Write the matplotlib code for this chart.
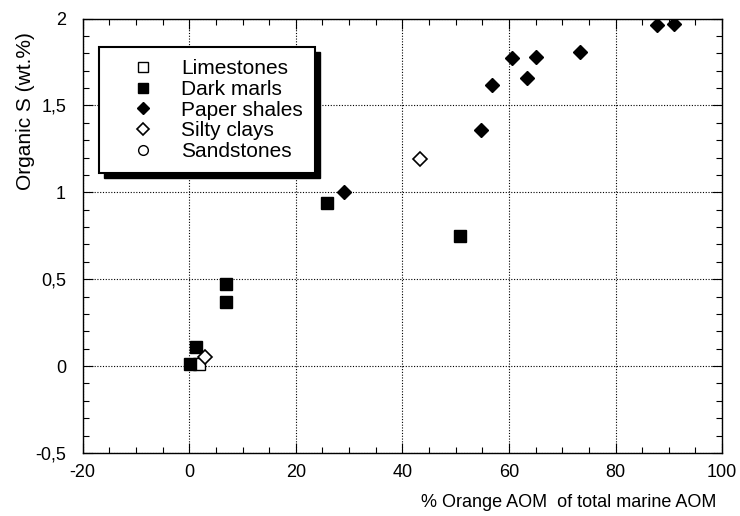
import matplotlib
matplotlib.use("Agg")
import matplotlib.pyplot as plt
from matplotlib.patches import Rectangle
from matplotlib.ticker import MultipleLocator, FuncFormatter

plt.rcParams["font.family"] = ["Liberation Sans", "DejaVu Sans"]
plt.rcParams["axes.unicode_minus"] = False

# data
limestone_x = [1.8]
limestone_y = [0.01]
marl_x = [0.1, 1.2, 6.9, 6.9, 25.8, 50.9]
marl_y = [0.01, 0.11, 0.47, 0.37, 0.94, 0.75]
shale_x = [29.0, 54.8, 56.9, 60.6, 63.4, 65.1, 73.3, 87.7, 91.0]
shale_y = [1.00, 1.36, 1.62, 1.77, 1.66, 1.78, 1.81, 1.96, 1.97]
silty_x = [2.9, 43.3]
silty_y = [0.05, 1.19]
sand_x = []
sand_y = []

fig = plt.figure(figsize=(7.4, 5.16), dpi=100)
ax = fig.add_axes([0.1118, 0.1221, 0.864, 0.842])

ax.plot(limestone_x, limestone_y, "s", ms=8.5, mfc="white", mec="black", mew=1, ls="none", label="Limestones")
ax.plot(marl_x, marl_y, "s", ms=8.5, mfc="black", mec="black", ls="none", label="Dark marls")
ax.plot(shale_x, shale_y, "D", ms=7.5, mfc="black", mec="black", ls="none", label="Paper shales")
ax.plot(silty_x, silty_y, "D", ms=7, mfc="white", mec="black", mew=1.2, ls="none", label="Silty clays")
ax.plot(sand_x, sand_y, "o", ms=8, mfc="white", mec="black", mew=1, ls="none", label="Sandstones")

ax.set_xlim(-20, 100)
ax.set_ylim(-0.5, 2)
ax.xaxis.set_major_locator(MultipleLocator(20))
ax.xaxis.set_minor_locator(MultipleLocator(5))
ax.yaxis.set_major_locator(MultipleLocator(0.5))
ax.yaxis.set_minor_locator(MultipleLocator(0.1))
ax.yaxis.set_major_formatter(FuncFormatter(lambda v, p: ("%g" % v).replace(".", ",")))
ax.tick_params(which="both", direction="in", top=True, right=True, labelsize=13, color="black")
ax.tick_params(which="major", length=7, width=0.8)
ax.tick_params(axis="y", which="major", pad=12)
ax.tick_params(axis="x", which="major", pad=8)
ax.tick_params(which="minor", length=4, width=0.8)
ax.grid(True, which="major", ls=(0, (1, 1.5)), color="black", lw=0.8)
for s in ax.spines.values():
    s.set_linewidth(1.0)

fig.text(0.035, 0.785, "Organic S (wt.%)", rotation=90, ha="center", va="center", fontsize=15)
fig.text(0.968, 0.026, "% Orange AOM  of total marine AOM", ha="right", va="center", fontsize=13)

leg = ax.legend(loc="upper left", bbox_to_anchor=(99 / 740, 1 - 46.7 / 516), bbox_transform=fig.transFigure,
                frameon=True, fancybox=False, fontsize=15, labelspacing=0.08, handletextpad=0.34,
                borderpad=0.6, handlelength=3.0, edgecolor="black", framealpha=1, borderaxespad=0)
leg.get_frame().set_linewidth(1.5)
leg.set_zorder(6)
for h, ms in zip(leg.legend_handles, [7, 7, 6.5, 6, 7]):
    h.set_markersize(ms)

fig.canvas.draw()
bb = leg.get_frame().get_window_extent().transformed(ax.transAxes.inverted())
dx = 5 / ax.bbox.width
dy = 5 / ax.bbox.height
ax.add_patch(Rectangle((bb.x0 + dx, bb.y0 - dy), bb.width, bb.height, transform=ax.transAxes,
                       facecolor="black", edgecolor="black", zorder=5.5, clip_on=False))

fig.savefig("out.png", dpi=100)
